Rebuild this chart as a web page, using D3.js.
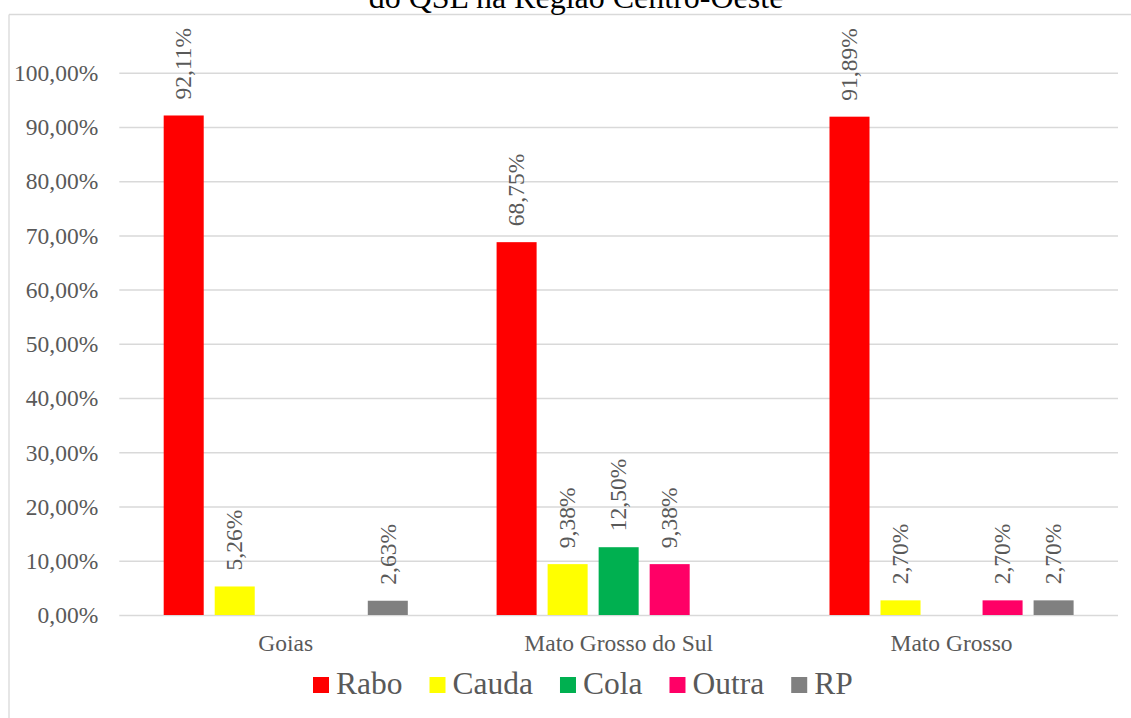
<!DOCTYPE html>
<html>
<head>
<meta charset="utf-8">
<script src="https://cdn.jsdelivr.net/npm/d3@7"></script>
<style>
  html, body { margin: 0; padding: 0; background: #fff; }
  svg { display: block; }
</style>
</head>
<body>
<svg id="chart" width="1131" height="718"></svg>
<script>
const categories = ["Goias", "Mato Grosso do Sul", "Mato Grosso"];
const seriesNames = ["Rabo", "Cauda", "Cola", "Outra", "RP"];
const rabo  = [92.11, 68.75, 91.89];
const cauda = [5.26, 9.38, 2.70];
const cola  = [0, 12.50, 0];
const outra = [0, 9.38, 2.70];
const rp    = [2.63, 0, 2.70];
const seriesColors = ["#FF0000", "#FFFF00", "#00B050", "#FF0066", "#808080"];
const yTicks = [0, 10, 20, 30, 40, 50, 60, 70, 80, 90, 100];
const titleText = "do QSL na Região Centro-Oeste";

const seriesValues = [rabo, cauda, cola, outra, rp];
const FONT = "'Liberation Serif', 'Times New Roman', Times, serif";
const TXT = "#595959";

const svg = d3.select("#chart");
const W = 1131, H = 718;
const plot = { left: 119.3, right: 1118, top: 72.7, bottom: 615 };

const fmt = v => v.toFixed(2).replace(".", ",") + "%";

// chart area border (top and left only visible)
svg.append("line").attr("x1", 9).attr("x2", W).attr("y1", 14.5).attr("y2", 14.5)
  .attr("stroke", "#d9d9d9").attr("stroke-width", 1.3);
svg.append("line").attr("x1", 9).attr("x2", 9).attr("y1", 14.5).attr("y2", H)
  .attr("stroke", "#d9d9d9").attr("stroke-width", 1.3);

// title (cut off at top as in the reference)
svg.append("text").attr("x", 576).attr("y", 8).attr("text-anchor", "middle")
  .style("font-family", FONT).style("font-size", "32px").style("fill", "#000").text(titleText);

const y = d3.scaleLinear().domain([0, 100]).range([plot.bottom, plot.top]);
const x0 = d3.scaleBand().domain(categories).range([plot.left, plot.right]).paddingInner(0).paddingOuter(0);
const x1 = d3.scaleBand().domain(seriesNames).range([0, x0.bandwidth()])
  .paddingInner(11 / 51).paddingOuter(0.87);

// gridlines + tick labels
const yAxis = d3.axisLeft(y).tickValues(yTicks).tickSize(-(plot.right - plot.left)).tickFormat(fmt);
const gy = svg.append("g").attr("transform", `translate(${plot.left},0)`).call(yAxis)
  .attr("font-family", null).attr("font-size", null);
gy.select(".domain").remove();
gy.selectAll(".tick line").attr("stroke", "#d9d9d9").attr("stroke-width", 1.5);
gy.selectAll(".tick text").attr("x", -21).attr("dy", "0.33em")
  .style("font-family", FONT).style("font-size", "23.5px").style("fill", TXT);

// bars
const groups = svg.append("g").selectAll("g").data(categories).join("g")
  .attr("transform", d => `translate(${x0(d)},0)`);

seriesNames.forEach((s, si) => {
  groups.each(function(cat, ci) {
    const v = seriesValues[si][ci];
    const g = d3.select(this);
    if (v > 0) {
      g.append("rect")
        .attr("x", x1(s)).attr("width", x1.bandwidth())
        .attr("y", y(v)).attr("height", y(0) - y(v))
        .attr("fill", seriesColors[si]);
      const cx = x1(s) + x1.bandwidth() / 2;
      const ty = y(v) - 16;
      g.append("text")
        .attr("transform", `translate(${cx},${ty}) rotate(-90)`)
        .attr("dy", "0.33em")
        .attr("text-anchor", "start")
        .style("font-family", FONT).style("font-size", "23.5px").style("fill", TXT)
        .text(fmt(v));
    }
  });
});

// category axis labels
svg.append("g").selectAll("text").data(categories).join("text")
  .attr("x", d => x0(d) + x0.bandwidth() / 2)
  .attr("y", 650.7)
  .attr("text-anchor", "middle")
  .style("font-family", FONT).style("font-size", "23.5px").style("fill", TXT)
  .text(d => d);

// legend
const legend = svg.append("g");
let lx = 313;
seriesNames.forEach((s, i) => {
  legend.append("rect").attr("x", lx).attr("y", 677).attr("width", 16).attr("height", 16)
    .attr("fill", seriesColors[i]);
  const t = legend.append("text").attr("x", lx + 23).attr("y", 694)
    .style("font-family", FONT).style("font-size", "31.5px").style("fill", TXT).text(s);
  const w = t.node().getComputedTextLength();
  lx = lx + 23 + w + 27;
});
</script>
</body>
</html>
